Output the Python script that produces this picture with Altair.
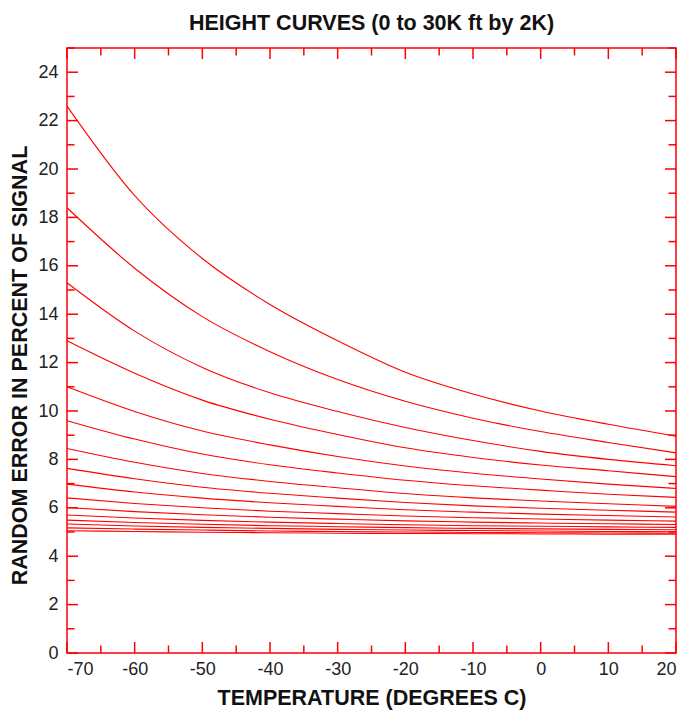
import altair as alt
import pandas as pd

# Temperature columns (degrees C) at which each height curve is sampled
temps = [-70, -60, -50, -40, -30, -20, -10, 0, 10, 20]

# Altitudes of the curves, thousands of feet
heights_kft = [0, 2, 4, 6, 8, 10, 12, 14, 16, 18, 20, 22, 24, 26, 28, 30]

# Random error (% of signal) for each altitude, one list per curve
err_0k = [5.05, 5.02, 4.99, 4.97, 4.95, 4.94, 4.93, 4.92, 4.91, 4.91]
err_2k = [5.17, 5.12, 5.08, 5.04, 5.02, 5.00, 4.98, 4.97, 4.96, 4.95]
err_4k = [5.33, 5.25, 5.19, 5.15, 5.11, 5.08, 5.06, 5.04, 5.02, 5.01]
err_6k = [5.49, 5.39, 5.32, 5.26, 5.22, 5.18, 5.15, 5.13, 5.11, 5.09]
err_8k = [5.70, 5.58, 5.48, 5.41, 5.35, 5.30, 5.26, 5.24, 5.21, 5.19]
err_10k = [6.01, 5.84, 5.71, 5.61, 5.53, 5.46, 5.41, 5.37, 5.34, 5.31]
err_12k = [6.41, 6.18, 6.00, 5.86, 5.76, 5.66, 5.59, 5.54, 5.49, 5.45]
err_14k = [6.98, 6.65, 6.40, 6.21, 6.06, 5.92, 5.82, 5.74, 5.68, 5.62]
err_16k = [7.63, 7.20, 6.85, 6.60, 6.40, 6.22, 6.08, 5.98, 5.90, 5.82]
err_18k = [8.45, 7.88, 7.42, 7.09, 6.83, 6.59, 6.41, 6.28, 6.17, 6.06]
err_20k = [9.60, 8.84, 8.22, 7.78, 7.44, 7.14, 6.91, 6.73, 6.56, 6.43]
err_22k = [11.0, 9.98, 9.17, 8.60, 8.12, 7.73, 7.43, 7.19, 6.98, 6.80]
err_24k = [12.9, 11.56, 10.45, 9.66, 9.03, 8.48, 8.08, 7.77, 7.53, 7.29]
err_26k = [15.3, 13.3, 11.8, 10.75, 9.98, 9.32, 8.78, 8.33, 8.00, 7.74]
err_28k = [18.4, 15.9, 13.9, 12.45, 11.3, 10.4, 9.70, 9.15, 8.70, 8.27]
err_30k = [22.6, 18.9, 16.3, 14.4, 12.9, 11.6, 10.7, 10.0, 9.45, 8.96]

curves = [err_0k, err_2k, err_4k, err_6k, err_8k, err_10k, err_12k, err_14k,
          err_16k, err_18k, err_20k, err_22k, err_24k, err_26k, err_28k, err_30k]

# Axis tick positions
x_major = [-70, -60, -50, -40, -30, -20, -10, 0, 10, 20]
x_minor = [-65, -55, -45, -35, -25, -15, -5, 5, 15]
y_major = [0, 2, 4, 6, 8, 10, 12, 14, 16, 18, 20, 22, 24]
y_minor = [1, 3, 5, 7, 9, 11, 13, 15, 17, 19, 21, 23, 25]

rows = []
for h, vals in zip(heights_kft, curves):
    for t, v in zip(temps, vals):
        rows.append({"height": h, "temp": t, "err": v})
df = pd.DataFrame(rows)

W, H = 609, 605
RED = "#ff0000"
MAJOR, MINOR = 11, 7.5
FONT = "Liberation Sans"
# plain hyphen for negative tick labels
LABEL_EXPR = "datum.value < 0 ? '-' + abs(datum.value) : '' + datum.value"

x_scale = alt.Scale(domain=[-70, 20], nice=False, zero=False)
y_scale = alt.Scale(domain=[0, 25], nice=False, zero=False)

x_axis = alt.Axis(
    values=x_major, labelExpr=LABEL_EXPR, title="TEMPERATURE (DEGREES C)",
    domain=False, ticks=False, grid=False, labelPadding=7,
    labelFont=FONT, labelFontSize=18, labelColor="#222222",
    titleFont=FONT, titleFontSize=21.5, titleFontWeight="bold",
    titleColor="#111111", titlePadding=9,
)
y_axis = alt.Axis(
    values=y_major, labelExpr=LABEL_EXPR,
    title="RANDOM ERROR IN PERCENT OF SIGNAL",
    domain=False, ticks=False, grid=False, labelPadding=9,
    labelFont=FONT, labelFontSize=18, labelColor="#222222",
    titleFont=FONT, titleFontSize=21.5, titleFontWeight="bold",
    titleColor="#111111", titleX=-47, titleY=317, titleBaseline="middle",
    titleAngle=270, titleAlign="center",
)

lines = alt.Chart(df).mark_line(
    color=RED, strokeWidth=1.1, interpolate="monotone"
).encode(
    x=alt.X("temp:Q", scale=x_scale, axis=x_axis),
    y=alt.Y("err:Q", scale=y_scale, axis=y_axis),
    detail="height:N",
)


def x_ticks(vals, length):
    # short vertical ticks pointing into the plot from bottom and top edges
    d = pd.DataFrame({"temp": vals})
    base = alt.Chart(d).mark_rule(color=RED, strokeWidth=1.5)
    bottom = base.encode(
        x=alt.X("temp:Q"), y=alt.value(H), y2=alt.value(H - length),
    )
    top = base.encode(
        x=alt.X("temp:Q"), y=alt.value(0), y2=alt.value(length),
    )
    return [bottom, top]


def y_ticks(vals, length):
    # short horizontal ticks pointing into the plot from left and right edges
    d = pd.DataFrame({"err": vals})
    base = alt.Chart(d).mark_rule(color=RED, strokeWidth=1.5)
    left = base.encode(
        y=alt.Y("err:Q"), x=alt.value(0), x2=alt.value(length),
    )
    right = base.encode(
        y=alt.Y("err:Q"), x=alt.value(W), x2=alt.value(W - length),
    )
    return [left, right]


layers = [lines]
layers += x_ticks(x_major, MAJOR) + x_ticks(x_minor, MINOR)
layers += y_ticks(y_major, MAJOR) + y_ticks(y_minor, MINOR)

chart = alt.layer(*layers).properties(
    width=W,
    height=H,
    background="white",
    title=alt.TitleParams(
        "HEIGHT CURVES (0 to 30K ft by 2K)",
        font=FONT, fontSize=21.5, fontWeight="bold",
        color="#111111", anchor="middle", offset=13,
    ),
    autosize=alt.AutoSizeParams(type="none"),
    padding={"left": 67, "top": 48, "right": 9, "bottom": 60},
).configure_view(
    stroke=RED, strokeWidth=1.5,
)

chart.save("out.html", embed_options={"renderer": "svg", "actions": False})
